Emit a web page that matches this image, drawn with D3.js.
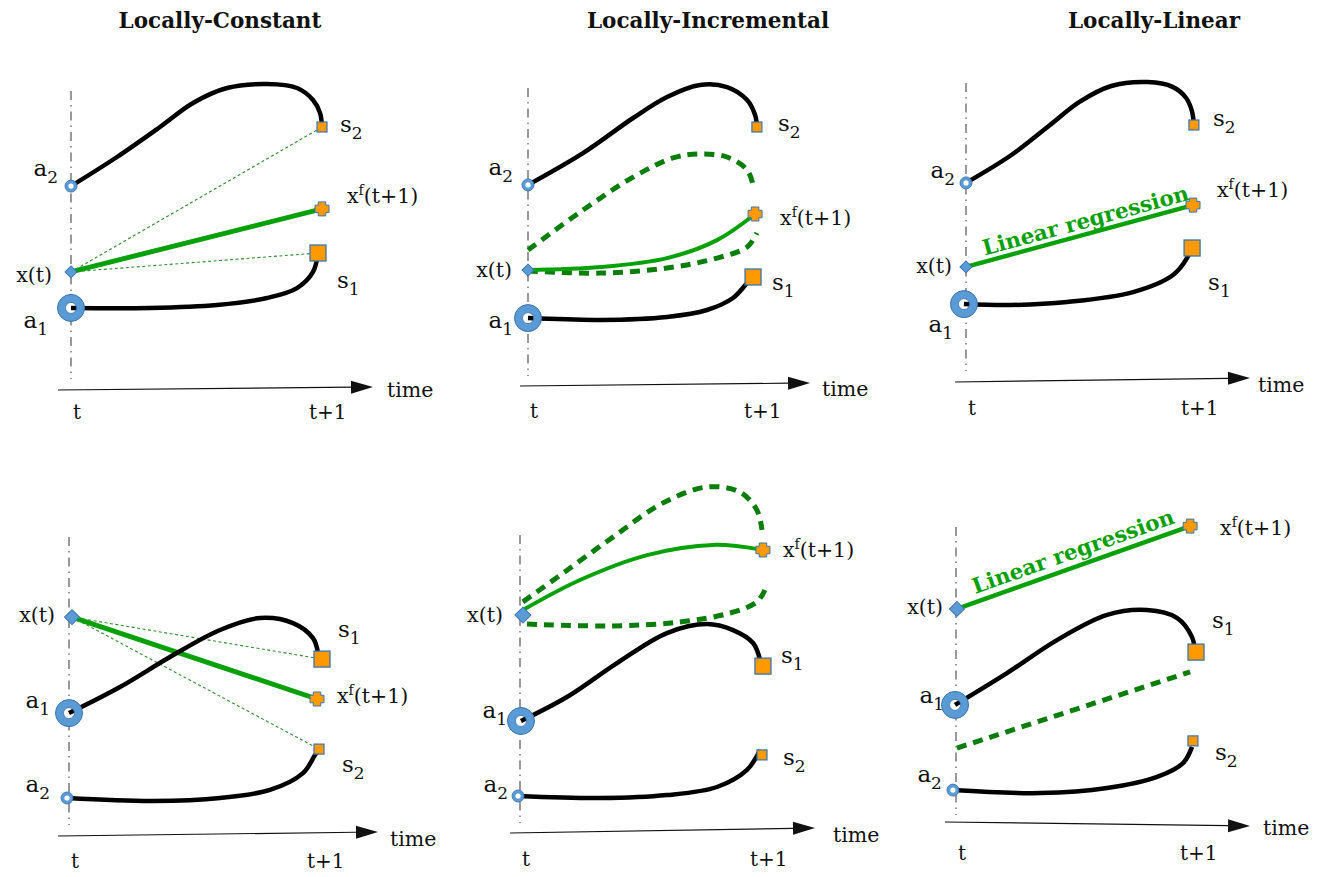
<!DOCTYPE html>
<html><head><meta charset="utf-8">
<script src="https://cdn.jsdelivr.net/npm/d3@7"></script>
<style>body{margin:0;background:#fff}svg{display:block}</style>
</head><body>
<svg id="chart" width="1324" height="877"></svg>
<script>
// ---------------- data (x: 0 = t, 1 = t+1 ; y: value units) ----------------
const titles = ["Locally-Constant", "Locally-Incremental", "Locally-Linear"];
const tickLabels = ["t", "t+1"];
const axisName = "time";
const regressionLabel = "Linear regression";

// Panel 1: Locally-Constant, top
const P1_markers = [["a1",0,2.67],["a2",0,6.73],["xt",0,3.87],["s1",0.988,4.5],["s2",1.004,8.7],["xf",1.004,5.97]];
const P1_curve1 = [[0,2.67],[0.316,2.67],[0.584,2.77],[0.784,3.0],[0.904,3.33],[0.968,3.87],[0.988,4.5]];
const P1_curve2 = [[0,6.73],[0.184,7.70],[0.356,8.70],[0.488,9.50],[0.624,10.0],[0.784,10.13],[0.904,10.0],[0.968,9.6],[0.996,9.17],[1.004,8.7]];
const P1_solid = [[[0,3.87],[1.004,5.97]]];
const P1_dashed = [];
const P1_dotted = [[[0,3.87],[1.004,8.7]],[[0,3.87],[0.988,4.5]]];
const P1_axis = [[-0.052,-0.067],[1.208,0.033]];

// Panel 2: Locally-Incremental, top
const P2_markers = [["a1",0,2.23],["a2",0,6.67],["xt",0,3.83],["s1",0.987,3.6],["s2",1.004,8.6],["xf",0.996,5.7]];
const P2_curve1 = [[0,2.23],[0.316,2.17],[0.61,2.27],[0.785,2.5],[0.899,2.9],[0.961,3.4],[0.987,3.6]];
const P2_curve2 = [[0,6.67],[0.241,7.73],[0.461,8.9],[0.61,9.6],[0.754,10.0],[0.873,9.93],[0.961,9.5],[0.996,9.0],[1.004,8.6]];
const P2_solid = [[[0,3.83],[0.316,3.93],[0.61,4.23],[0.829,4.83],[0.996,5.7]]];
const P2_dashed = [[[0,4.5],[0.241,5.83],[0.461,6.93],[0.636,7.57],[0.754,7.7],[0.873,7.6],[0.961,7.17],[0.987,6.67]],
                   [[0,3.8],[0.316,3.73],[0.61,3.9],[0.829,4.23],[0.961,4.6],[1.004,5.07]]];
const P2_dotted = [];
const P2_axis = [[-0.035,-0.033],[1.237,0.067]];

// Panel 3: Locally-Linear, top
const P3_markers = [["a1",-0.009,2.53],["a2",0,6.57],["xt",0,3.77],["s1",0.996,4.4],["s2",1.004,8.5],["xf",1.0,5.83]];
const P3_curve1 = [[-0.009,2.53],[0.2,2.5],[0.445,2.6],[0.736,2.93],[0.912,3.5],[0.974,4.07],[0.991,4.4]];
const P3_curve2 = [[0,6.57],[0.2,7.5],[0.37,8.5],[0.5,9.27],[0.64,9.8],[0.8,9.93],[0.91,9.77],[0.97,9.4],[0.995,8.97],[1.004,8.5]];
const P3_solid = [[[0,3.77],[1.0,5.83]]];
const P3_dashed = [];
const P3_dotted = [];
const P3_axis = [[-0.048,-0.067],[1.251,0.067]];

// Panel 4: Locally-Constant, bottom
const P4_markers = [["a1",0,4.03],["a2",-0.008,1.2],["xt",0.012,7.23],["s1",1.012,5.83],["s2",1.0,2.83],["xf",0.992,4.5]];
const P4_curve1 = [[0,4.03],[0.204,4.9],[0.404,5.9],[0.604,6.8],[0.764,7.2],[0.896,7.03],[0.976,6.53],[0.996,6.03]];
const P4_curve2 = [[-0.008,1.2],[0.336,1.1],[0.604,1.2],[0.804,1.47],[0.936,2.03],[0.984,2.63],[1.0,2.83]];
const P4_solid = [[[0.012,7.23],[0.992,4.5]]];
const P4_dashed = [];
const P4_dotted = [[[0.012,7.23],[1.012,5.83]],[[0.012,7.23],[1.0,2.83]]];
const P4_axis = [[-0.044,-0.067],[1.236,0.067]];

// Panel 5: Locally-Incremental, bottom
const P5_markers = [["a1",0.004,3.7],["a2",-0.008,1.2],["xt",0.012,7.23],["s1",1.004,5.53],["s2",1.0,2.57],["xf",1.004,9.4]];
const P5_curve1 = [[0.004,3.7],[0.194,4.5],[0.401,5.63],[0.607,6.63],[0.773,6.93],[0.88,6.73],[0.963,6.3],[0.992,5.73]];
const P5_curve2 = [[-0.008,1.2],[0.331,1.13],[0.607,1.23],[0.814,1.5],[0.938,2.07],[0.992,2.73]];
const P5_solid = [[[0.012,7.4],[0.248,8.4],[0.525,9.23],[0.798,9.57],[1.004,9.4]]];
const P5_dashed = [[[0.012,7.67],[0.178,8.63],[0.384,9.83],[0.591,10.97],[0.773,11.5],[0.909,11.33],[0.979,10.73],[1.0,10.07]],
                   [[0.029,6.93],[0.384,6.87],[0.661,7.0],[0.868,7.3],[0.979,7.67],[1.012,8.07]]];
const P5_dotted = [];
const P5_axis = [[-0.041,-0.033],[1.219,0.133]];

// Panel 6: Locally-Linear, bottom
const P6_markers = [["a1",-0.004,3.97],["a2",-0.013,1.13],["xt",0.004,7.17],["s1",1.017,5.73],["s2",1.004,2.77],["xf",0.992,9.93]];
const P6_curve1 = [[-0.004,3.97],[0.216,5.03],[0.428,6.13],[0.64,6.97],[0.809,7.13],[0.936,6.87],[1.0,6.23],[1.013,5.73]];
const P6_curve2 = [[-0.013,1.13],[0.356,1.03],[0.64,1.2],[0.852,1.57],[0.962,2.03],[1.0,2.57]];
const P6_solid = [[[0.004,7.17],[0.992,9.93]]];
const P6_dashed = [[[0.004,2.53],[0.992,5.07]]];
const P6_dotted = [];
const P6_axis = [[-0.047,0.067],[1.246,-0.067]];

// ---------------- layout ----------------
const titleX = [220, 708, 1154];
const panels = [
  {x0:71,  x1:321,  yBase:388, m:P1_markers, curves:[P1_curve1,P1_curve2], solid:P1_solid, dashed:P1_dashed, dotted:P1_dotted, axis:P1_axis, dia:6, sw:5, reg:false, tY:31,
   lab:{a2:[-13,-10,"end"],a1:[-23,20,"end"],xt:[-19,10,"end"],s2:[18,5,"start"],xf:[25,-6,"start"],s1:[19,35,"start"]}, timeOff:[14,10]},
  {x0:528, x1:756,  yBase:385, m:P2_markers, curves:[P2_curve1,P2_curve2], solid:P2_solid, dashed:P2_dashed, dotted:P2_dotted, axis:P2_axis, dia:6, sw:4, reg:false, tY:33,
   lab:{a2:[-15,-10,"end"],a1:[-15,10,"end"],xt:[-16,7,"end"],s2:[21,4,"start"],xf:[25,11,"start"],s1:[19,13,"start"]}, timeOff:[12,13]},
  {x0:966, x1:1193, yBase:380, m:P3_markers, curves:[P3_curve1,P3_curve2], solid:P3_solid, dashed:P3_dashed, dotted:P3_dotted, axis:P3_axis, dia:6, sw:4.5, reg:true, regOff:6, tY:35,
   lab:{a2:[-11,-5,"end"],a1:[-11,28,"end"],xt:[-14,6,"end"],s2:[19,1,"start"],xf:[24,-8,"start"],s1:[16,42,"start"]}, timeOff:[8,14]},
  {x0:69,  x1:319,  yBase:834, m:P4_markers, curves:[P4_curve1,P4_curve2], solid:P4_solid, dashed:P4_dashed, dotted:P4_dotted, axis:P4_axis, dia:7.5, sw:5, reg:false, tY:34,
   lab:{xt:[-17,5,"end"],a1:[-19,-5,"end"],a2:[-17,-6,"end"],s1:[16,-22,"start"],xf:[20,4,"start"],s2:[23,23,"start"]}, timeOff:[12,14]},
  {x0:520, x1:762,  yBase:832, m:P5_markers, curves:[P5_curve1,P5_curve2], solid:P5_solid, dashed:P5_dashed, dotted:P5_dotted, axis:P5_axis, dia:8, sw:4, reg:false, tY:34,
   lab:{xt:[-20,7,"end"],a1:[-14,-3,"end"],a2:[-10,-4,"end"],s1:[18,-3,"start"],xf:[20,7,"start"],s2:[21,10,"start"]}, timeOff:[18,14]},
  {x0:956, x1:1192, yBase:824, m:P6_markers, curves:[P6_curve1,P6_curve2], solid:P6_solid, dashed:P6_dashed, dotted:P6_dotted, axis:P6_axis, dia:7.5, sw:4.5, reg:true, regOff:8, tY:36,
   lab:{xt:[-14,5,"end"],a1:[-11,-2,"end"],a2:[-11,-8,"end"],s1:[16,-24,"start"],xf:[30,9,"start"],s2:[22,19,"start"]}, timeOff:[13,9]}
];

const BLUE = "#5b9bd5", BLUE_D = "#3b74ad", ORANGE = "#ff9900";
const GREEN = "#0aa00a", GREEN_D = "#0b7d0b", GREEN_DOT = "#2e8f2e";
const SERIF = "'DejaVu Serif', serif";

const svg = d3.select("#chart");

// titles
svg.selectAll("text.title").data(titles).join("text")
  .attr("class","title").attr("x",(d,i)=>titleX[i]).attr("y",28)
  .attr("text-anchor","middle").attr("font-family",SERIF).attr("font-weight","bold")
  .attr("font-size",21.5).attr("fill","#111").text(d=>d);

function plusPath(w, a){ const h=w/2, t=a/2;
  return `M${-t},${-h}H${t}V${-t}H${h}V${t}H${t}V${h}H${-t}V${t}H${-h}V${-t}H${-t}Z`; }

function addLabel(g, key, px, py, off){
  const t = g.append("text").attr("x",px+off[0]).attr("y",py+off[1]).attr("text-anchor",off[2])
    .attr("font-family",SERIF).attr("fill","#111");
  if (key==="a1"||key==="a2"||key==="s1"||key==="s2"){
    t.append("tspan").attr("font-size",23).text(key[0]);
    t.append("tspan").attr("font-size",17).attr("dy",7).text(key[1]);
  } else if (key==="xt"){
    t.attr("font-size",20.5).text("x(t)");
  } else {
    t.attr("font-size",20.5);
    t.append("tspan").text("x");
    t.append("tspan").attr("font-size",14).attr("dy",-8).text("f");
    t.append("tspan").attr("dy",8).text("(t+1)");
  }
}

panels.forEach((p) => {
  const g = svg.append("g");
  const x = d3.scaleLinear().domain([0,1]).range([p.x0, p.x1]);
  const y = d3.scaleLinear().domain([0,10]).range([p.yBase, p.yBase-300]);
  const line = d3.line().x(d=>x(d[0])).y(d=>y(d[1]));
  const smooth = d3.line().x(d=>x(d[0])).y(d=>y(d[1])).curve(d3.curveCatmullRom.alpha(0.5));

  // vertical dash-dot line at t
  g.append("line").attr("x1",x(0)).attr("x2",x(0)).attr("y1",y(9.9)).attr("y2",y(0.3))
    .attr("stroke","#555").attr("stroke-width",1.2).attr("stroke-dasharray","9,5,1.5,5");

  // time axis with arrow
  const a0 = p.axis[0], a1 = p.axis[1];
  const ax0 = x(a0[0]), ay0 = y(a0[1]), ax1 = x(a1[0]), ay1 = y(a1[1]);
  const ang = Math.atan2(ay1-ay0, ax1-ax0);
  const L = 22, H = 6.5;
  const bx = ax1 - L*Math.cos(ang), by = ay1 - L*Math.sin(ang);
  g.append("line").attr("x1",ax0).attr("y1",ay0).attr("x2",bx).attr("y2",by)
    .attr("stroke","#111").attr("stroke-width",1.2);
  g.append("path").attr("d",`M${ax1},${ay1}L${bx - H*Math.sin(ang)},${by + H*Math.cos(ang)}L${bx + H*Math.sin(ang)},${by - H*Math.cos(ang)}Z`)
    .attr("fill","#111");
  g.append("text").attr("x",ax1+p.timeOff[0]).attr("y",ay1+p.timeOff[1])
    .attr("font-family",SERIF).attr("font-size",20.5).attr("fill","#111").text(axisName);
  g.append("text").attr("x",x(0)+2).attr("y",p.yBase+p.tY).attr("font-family",SERIF).attr("font-size",20).attr("fill","#111").text(tickLabels[0]);
  g.append("text").attr("x",x(1)-12).attr("y",p.yBase+p.tY).attr("font-family",SERIF).attr("font-size",20).attr("fill","#111").text(tickLabels[1]);

  const mk = {}; p.m.forEach(d => mk[d[0]] = [x(d[1]), y(d[2])]);

  // white hole for the big ring (under its curve)
  g.append("circle").attr("cx",mk.a1[0]).attr("cy",mk.a1[1]).attr("r",5.5).attr("fill","#fff");

  // dotted guide lines
  p.dotted.forEach(seg => g.append("path").attr("d",line(seg)).attr("fill","none")
    .attr("stroke",GREEN_DOT).attr("stroke-width",1.1).attr("stroke-dasharray","3,2.5"));
  // dashed green envelopes
  p.dashed.forEach(seg => g.append("path").attr("d",smooth(seg)).attr("fill","none")
    .attr("stroke",GREEN_D).attr("stroke-width",5).attr("stroke-dasharray","10,7"));
  // solid green prediction
  p.solid.forEach(seg => g.append("path").attr("d",seg.length>2?smooth(seg):line(seg)).attr("fill","none")
    .attr("stroke",GREEN).attr("stroke-width",p.sw));
  // black trajectories
  p.curves.forEach(seg => g.append("path").attr("d",smooth(seg)).attr("fill","none")
    .attr("stroke","#000").attr("stroke-width",4.5));

  // regression label
  if (p.reg){
    const s = p.solid[0], sx0 = x(s[0][0]), sy0 = y(s[0][1]), sx1 = x(s[1][0]), sy1 = y(s[1][1]);
    const an = Math.atan2(sy1-sy0, sx1-sx0);
    const f = 0.09, tx = sx0 + f*(sx1-sx0), ty = sy0 + f*(sy1-sy0);
    const ox = tx + p.regOff*Math.sin(an), oy = ty - p.regOff*Math.cos(an);
    g.append("text").attr("transform",`translate(${ox},${oy}) rotate(${an*180/Math.PI})`)
      .attr("font-family",SERIF).attr("font-weight","bold").attr("font-size",21.5)
      .attr("fill",GREEN).text(regressionLabel);
  }

  // markers
  g.append("circle").attr("cx",mk.a1[0]).attr("cy",mk.a1[1]).attr("r",9.5).attr("fill","none")
    .attr("stroke",BLUE).attr("stroke-width",8);
  g.append("circle").attr("cx",mk.a1[0]).attr("cy",mk.a1[1]).attr("r",13.5).attr("fill","none").attr("stroke",BLUE_D).attr("stroke-width",1);
  g.append("circle").attr("cx",mk.a1[0]).attr("cy",mk.a1[1]).attr("r",5.5).attr("fill","none").attr("stroke",BLUE_D).attr("stroke-width",0.8);
  g.append("circle").attr("cx",mk.a2[0]).attr("cy",mk.a2[1]).attr("r",4.3).attr("fill","#fff")
    .attr("stroke",BLUE).attr("stroke-width",3.4);
  g.append("circle").attr("cx",mk.a2[0]).attr("cy",mk.a2[1]).attr("r",6).attr("fill","none").attr("stroke",BLUE_D).attr("stroke-width",0.9);
  g.append("rect").attr("x",-p.dia/Math.SQRT2).attr("y",-p.dia/Math.SQRT2).attr("width",p.dia*Math.SQRT2).attr("height",p.dia*Math.SQRT2)
    .attr("transform",`translate(${mk.xt[0]},${mk.xt[1]}) rotate(45)`)
    .attr("fill",BLUE).attr("stroke",BLUE_D).attr("stroke-width",1);
  g.append("rect").attr("x",mk.s1[0]-8).attr("y",mk.s1[1]-8).attr("width",16).attr("height",16)
    .attr("fill",ORANGE).attr("stroke",BLUE_D).attr("stroke-width",1.3);
  g.append("rect").attr("x",mk.s2[0]-5).attr("y",mk.s2[1]-5).attr("width",10).attr("height",10)
    .attr("fill",ORANGE).attr("stroke",BLUE_D).attr("stroke-width",1.2);
  g.append("path").attr("d",plusPath(14,7.5)).attr("transform",`translate(${mk.xf[0]},${mk.xf[1]})`)
    .attr("fill",ORANGE).attr("stroke",BLUE_D).attr("stroke-width",1);

  // labels
  Object.keys(p.lab).forEach(k => addLabel(g, k, mk[k][0], mk[k][1], p.lab[k]));
});
</script>
</body></html>
